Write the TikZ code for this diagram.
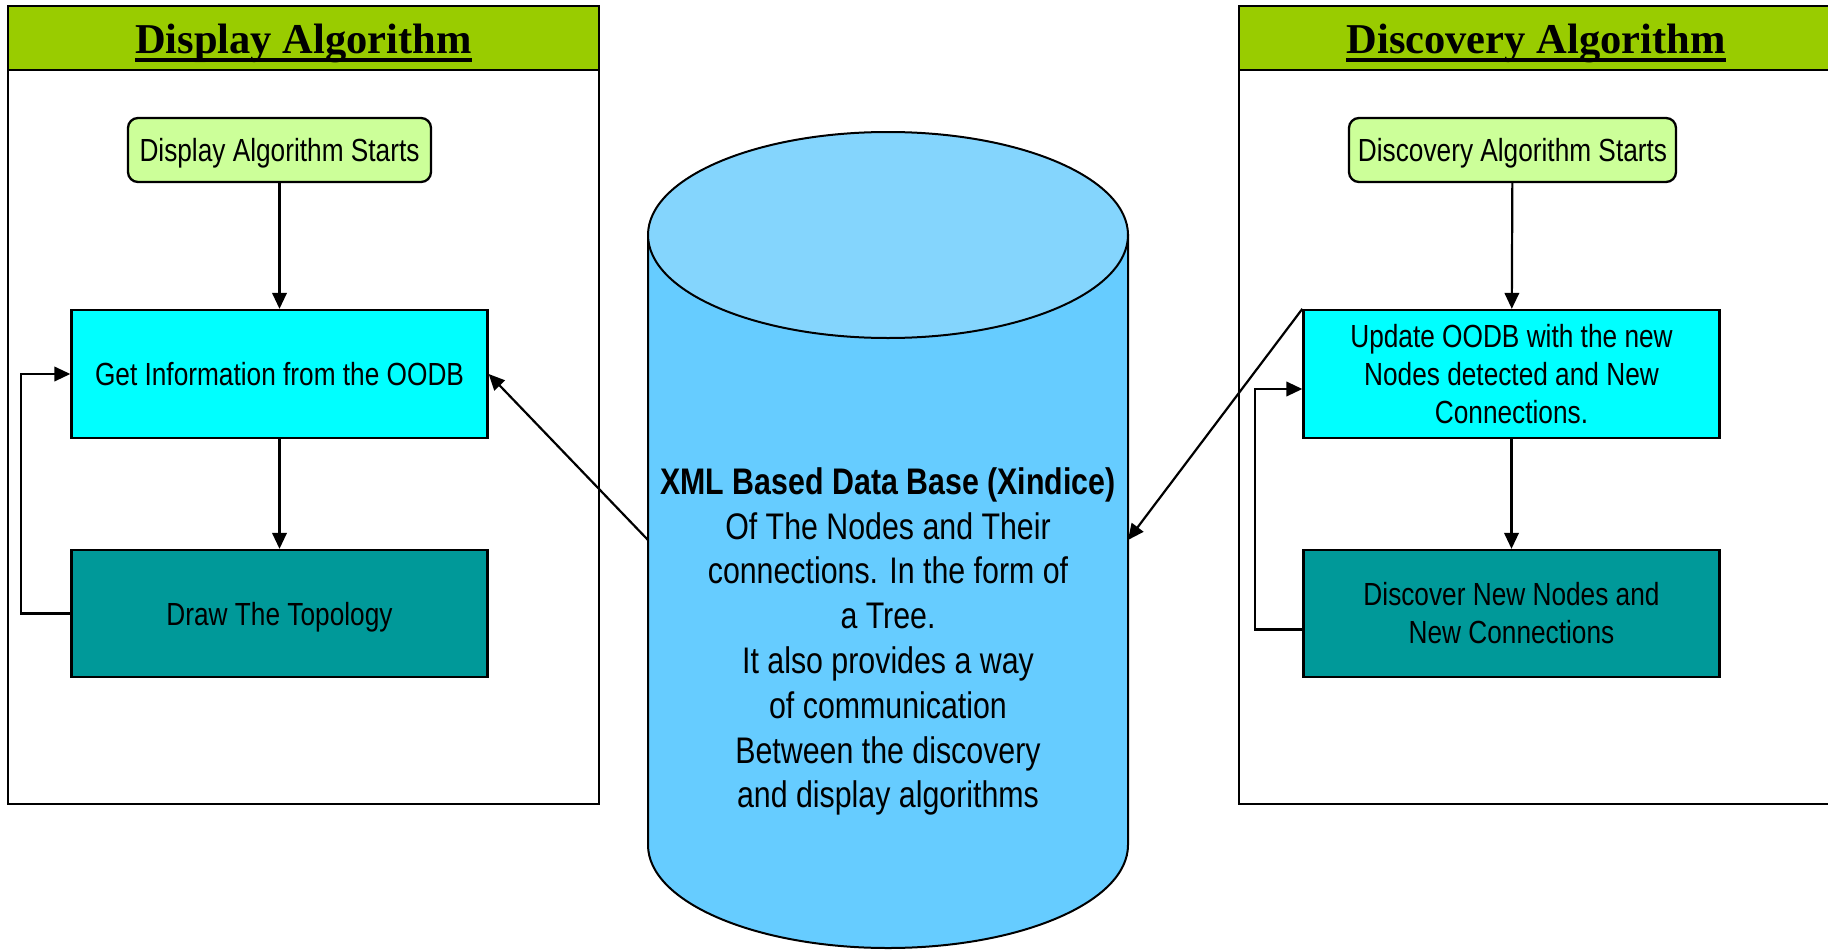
\documentclass[tikz,border=0pt]{standalone}
\usepackage{fontspec}
\setmainfont{Liberation Sans}[FakeStretch=0.82]
\newfontfamily\titlefont{Liberation Serif}
\usetikzlibrary{arrows.meta}

\definecolor{hdrgreen}{HTML}{99CC00}
\definecolor{startgreen}{HTML}{CCFF99}
\definecolor{infocyan}{HTML}{00FFFF}
\definecolor{stepteal}{HTML}{009999}
\definecolor{dbtop}{HTML}{84D5FD}
\definecolor{dbbody}{HTML}{66CCFF}

\tikzset{
  panel/.style={draw, line width=2.4pt},
  boxtext/.style={font=\fontsize{32}{38}\selectfont, align=center, inner sep=0pt},
  startbox/.style={boxtext, draw, fill=startgreen, rounded corners=10pt,
    line width=2.3pt, minimum height=64pt, text depth=0pt},
  infobox/.style={boxtext, draw, fill=infocyan, line width=2.3pt,
    minimum width=416pt, minimum height=128pt},
  stepbox/.style={boxtext, draw, fill=stepteal, line width=2.3pt,
    minimum width=416pt, minimum height=127pt},
  titletext/.style={font=\titlefont\bfseries\fontsize{42.5}{50}\selectfont,
    inner sep=0pt, anchor=base},
  flow/.style={line width=2.2pt, -{Triangle[length=16pt,width=14.5pt]}},
}

\begin{document}
\begin{tikzpicture}[x=1pt,y=1pt]
\useasboundingbox (0,0) rectangle (1828,-950);

% Display algorithm panel
\fill[hdrgreen] (8,-6) rectangle (599,-70);
\draw[panel] (8,-6) rectangle (599,-804);
\draw[panel] (8,-70) -- (599,-70);
\node[titletext] (dtitle) at (303.5,-54) {Display Algorithm};
\draw[line width=4pt] ([yshift=-6pt]dtitle.base west) -- ([yshift=-6pt]dtitle.base east);

% Discovery algorithm panel (runs off the right edge)
\fill[hdrgreen] (1239,-6) rectangle (1828,-70);
\draw[panel] (1828,-6) -- (1239,-6) -- (1239,-804) -- (1828,-804);
\draw[panel] (1239,-70) -- (1828,-70);
\node[titletext] (ctitle) at (1536,-54) {Discovery Algorithm};
\draw[line width=4pt] ([yshift=-6pt]ctitle.base west) -- ([yshift=-6pt]ctitle.base east);

% Database cylinder
\filldraw[fill=dbbody, line width=2pt]
  (648,-235) -- (648,-845)
  arc[start angle=180, end angle=360, x radius=240, y radius=103]
  -- (1128,-235) -- cycle;
\filldraw[fill=dbtop, line width=2pt] (888,-235) ellipse [x radius=240, y radius=103];
\node[font=\fontsize{37}{44.8}\selectfont, align=center, inner sep=0pt] (dbtext) at (888,-641.5)
  {\textbf{XML Based Data Base (Xindice)}\\
   Of The Nodes and Their\\
   connections. In the form of\\
   a Tree.\\
   It also provides a way\\
   of communication\\
   Between the discovery\\
   and display algorithms};
\coordinate (dbleft) at (648,-540);
\coordinate (dbright) at (1128,-540);

% Display algorithm steps
\node[startbox, minimum width=303pt] (dstart) at (279.5,-150) {Display Algorithm Starts};
\node[infobox] (getinfo) at (279.5,-374) {Get Information from the OODB};
\node[stepbox, text depth=0pt] (drawtopo) at (279.5,-613.5) {Draw The Topology};

\draw[flow] (dstart) -- (getinfo);
\draw[flow] (getinfo) -- (drawtopo);
\draw[flow] (drawtopo.west) -- ++(-49,0) |- (getinfo.west);
\draw[flow] (dbleft) -- (getinfo.east);

% Discovery algorithm steps
\node[startbox, minimum width=327pt] (cstart) at (1512.5,-150) {Discovery Algorithm Starts};
\node[infobox] (update) at (1511.5,-374)
  {Update OODB with the new\\Nodes detected and New\\Connections.};
\node[stepbox] (discover) at (1511.5,-613.5) {Discover New Nodes and\\New Connections};

\draw[flow] (cstart) -- (update);
\draw[flow] (update) -- (discover);
\draw[flow] ([yshift=-16pt]discover.west) -- ++(-47,0) |- ([yshift=-15pt]update.west);
\draw[flow] (update.north west) -- (dbright);
\end{tikzpicture}
\end{document}
